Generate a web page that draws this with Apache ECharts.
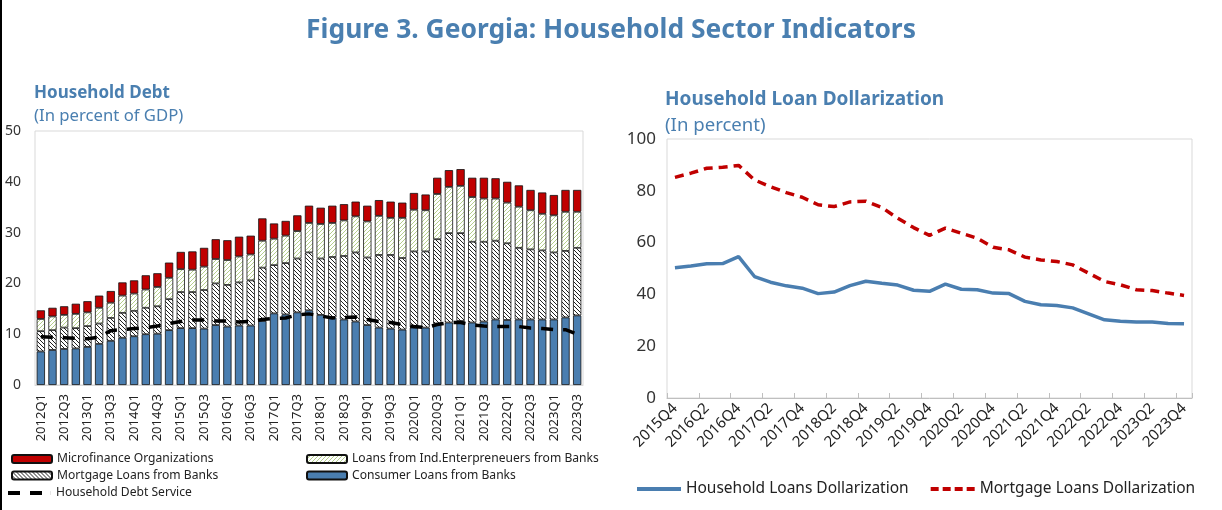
<!DOCTYPE html>
<html>
<head>
<meta charset="utf-8">
<script src="https://cdn.jsdelivr.net/npm/echarts@6/dist/echarts.min.js"></script>
<style>html,body{margin:0;padding:0;background:#fff}#c{width:1222px;height:510px}</style>
</head>
<body>
<div id="c"></div>
<script>
// ---------- Left chart: Household Debt (percent of GDP) ----------
const debtQuarters = ['2012Q1','2012Q2','2012Q3','2012Q4','2013Q1','2013Q2','2013Q3','2013Q4',
  '2014Q1','2014Q2','2014Q3','2014Q4','2015Q1','2015Q2','2015Q3','2015Q4',
  '2016Q1','2016Q2','2016Q3','2016Q4','2017Q1','2017Q2','2017Q3','2017Q4',
  '2018Q1','2018Q2','2018Q3','2018Q4','2019Q1','2019Q2','2019Q3','2019Q4',
  '2020Q1','2020Q2','2020Q3','2020Q4','2021Q1','2021Q2','2021Q3','2021Q4',
  '2022Q1','2022Q2','2022Q3','2022Q4','2023Q1','2023Q2','2023Q3'];
const consumerLoans = [6.6,6.9,7.1,7.2,7.5,8.1,8.7,9.3,9.6,10.0,10.1,10.8,11.2,11.2,11.1,11.8,
  11.5,11.7,11.7,12.6,14.1,13.9,14.3,14.7,13.8,13.3,12.9,12.5,11.8,11.3,11.1,10.9,
  11.3,11.3,12.1,12.3,12.6,12.3,12.5,12.9,12.8,12.9,12.9,12.9,12.9,13.3,13.7];
const mortgageLoans = [4.0,3.9,4.2,4.0,4.1,4.0,4.5,4.9,5.0,5.2,5.4,6.1,7.1,7.1,7.6,8.2,
  8.2,8.5,8.9,10.5,9.5,10.1,10.6,11.4,11.1,11.9,12.5,13.6,13.3,14.3,14.5,14.1,
  15.0,15.0,16.6,17.6,17.3,15.9,15.7,15.5,15.1,14.1,13.8,13.6,13.2,13.1,13.3];
const indEntLoans = [2.4,2.7,2.5,2.8,2.7,3.1,3.0,3.4,3.4,3.6,3.8,4.2,4.5,4.4,4.6,4.8,
  4.9,5.1,5.1,5.3,5.2,5.4,5.4,5.8,6.8,6.7,7.0,7.1,7.1,7.7,7.3,7.9,
  8.2,8.1,8.9,9.1,9.3,8.8,8.5,8.3,8.0,8.1,7.7,7.2,7.3,7.7,7.1];
const microfinance = [1.7,1.7,1.7,2.0,2.2,2.4,2.3,2.6,2.6,2.8,2.7,3.0,3.4,3.6,3.7,3.9,
  3.9,3.9,3.7,4.4,3.0,2.9,3.1,3.4,3.2,3.4,3.2,2.9,3.1,3.1,3.2,3.0,
  3.3,3.1,3.2,3.3,3.3,3.8,4.1,4.0,4.1,4.2,4.0,4.2,4.0,4.3,4.3];
const debtService = [9.5,9.4,9.3,9.2,9.1,9.4,10.7,10.9,11.1,11.3,11.6,12.1,12.5,12.8,12.8,12.6,
  12.6,12.4,12.5,12.9,13.1,13.2,13.8,14.0,13.6,13.2,13.3,13.4,12.9,12.5,12.3,11.9,
  11.5,11.3,11.9,12.3,12.3,11.8,11.6,11.5,11.5,11.5,11.2,11.1,10.9,10.9,10.0];

// ---------- Right chart: Household Loan Dollarization (percent) ----------
const dollarQuarters = ['2015Q4','2016Q1','2016Q2','2016Q3','2016Q4','2017Q1','2017Q2','2017Q3',
  '2017Q4','2018Q1','2018Q2','2018Q3','2018Q4','2019Q1','2019Q2','2019Q3','2019Q4',
  '2020Q1','2020Q2','2020Q3','2020Q4','2021Q1','2021Q2','2021Q3','2021Q4',
  '2022Q1','2022Q2','2022Q3','2022Q4','2023Q1','2023Q2','2023Q3','2023Q4'];
const householdDollarization = [50.3,51.0,51.8,51.9,54.6,46.9,44.7,43.3,42.4,40.3,40.9,43.4,45.1,44.3,43.6,41.6,41.2,
  44.0,42.0,41.8,40.5,40.3,37.3,36.0,35.7,34.8,32.5,30.2,29.6,29.3,29.3,28.8,28.7];
const mortgageDollarization = [85.2,86.8,88.7,89.1,89.8,84.2,81.6,79.3,77.5,74.6,73.9,75.7,76.0,73.6,69.4,65.8,62.8,
  65.6,63.6,61.7,58.2,57.2,54.4,53.3,52.7,51.4,48.2,45.0,43.7,41.8,41.5,40.5,39.6];

const FONT = "'Noto Sans', sans-serif";
const BLUE = '#4a7eb0';
const RED = '#c00000';
const TITLE_BLUE = '#4a7fb0';

function hatch(color, dir) {
  const s = 4;
  const c = document.createElement('canvas');
  c.width = s; c.height = s;
  const g = c.getContext('2d');
  g.fillStyle = '#ffffff';
  g.fillRect(0, 0, s, s);
  g.strokeStyle = color;
  g.lineWidth = 1;
  g.beginPath();
  for (let k = -s; k <= s; k += s) {
    if (dir === '\\') { g.moveTo(k, 0); g.lineTo(k + s, s); }
    else { g.moveTo(k, s); g.lineTo(k + s, 0); }
  }
  g.stroke();
  return { image: c, repeat: 'repeat' };
}
const mortgagePattern = hatch('#222222', '\\');
const indEntPattern = hatch('#b5cf8c', '/');

const chart = echarts.init(document.getElementById('c'), null, { renderer: 'canvas' });

const barBorder = { borderColor: '#111', borderWidth: 0.8 };
const legendText = { fontSize: 12.1, color: '#222', lineHeight: 14, fontFamily: FONT };
const dash2Icon = 'path://M0,0H12V4H0Z M22,0H34V4H22Z M42.9,0H43V4H42.9Z';
const dash4Icon = 'path://M0,0H8V4H0Z M12,0H20V4H12Z M24,0H32V4H24Z M36,0H44V4H36Z';

const option = {
  animation: false,
  textStyle: { fontFamily: FONT },
  graphic: [
    { type: 'rect', shape: { x: 0, y: 0, width: 2, height: 510 }, style: { fill: '#000' } },
    { type: 'text', style: { x: 611, y: 30, text: 'Figure 3. Georgia: Household Sector Indicators',
        font: "bold 26.4px 'Noto Sans'", fill: TITLE_BLUE, textAlign: 'center', textVerticalAlign: 'middle' } },
    { type: 'text', style: { x: 34, y: 93, text: 'Household Debt',
        font: "bold 17px 'Noto Sans'", fill: TITLE_BLUE, textAlign: 'left', textVerticalAlign: 'middle' } },
    { type: 'text', style: { x: 34, y: 116, text: '(In percent of GDP)',
        font: "16.7px 'Noto Sans'", fill: TITLE_BLUE, textAlign: 'left', textVerticalAlign: 'middle' } },
    { type: 'text', style: { x: 665, y: 100, text: 'Household Loan Dollarization',
        font: "bold 19px 'Noto Sans'", fill: TITLE_BLUE, textAlign: 'left', textVerticalAlign: 'middle' } },
    { type: 'text', style: { x: 665, y: 126, text: '(In percent)',
        font: "18.6px 'Noto Sans'", fill: TITLE_BLUE, textAlign: 'left', textVerticalAlign: 'middle' } }
  ],
  legend: [
    { left: 6, top: 447, orient: 'vertical', itemWidth: 40, itemHeight: 8, itemGap: 2.5,
      textStyle: legendText,
      data: ['Microfinance Organizations', 'Mortgage Loans from Banks'] },
    { left: 3, top: 481, orient: 'vertical', itemWidth: 43, itemHeight: 4, itemGap: 2.5,
      textStyle: legendText,
      data: [{ name: 'Household Debt Service', icon: dash2Icon, itemStyle: { color: '#000', opacity: 1 } }] },
    { left: 301, top: 447, orient: 'vertical', itemWidth: 40, itemHeight: 8, itemGap: 2.5,
      textStyle: legendText,
      data: ['Loans from Ind.Enterpreneuers from Banks', 'Consumer Loans from Banks'] },
    { left: 632, top: 476, orient: 'horizontal', itemWidth: 44, itemHeight: 4, itemGap: 22,
      textStyle: { fontSize: 15.5, color: '#222', fontFamily: FONT },
      data: [{ name: 'Household Loans Dollarization', icon: 'rect', itemStyle: { color: BLUE, opacity: 1 } },
             { name: 'Mortgage Loans Dollarization', icon: dash4Icon, itemStyle: { color: RED, opacity: 1 } }] }
  ],
  grid: [
    { left: 35, right: 639, top: 131, bottom: 125, show: true, borderColor: '#d9d9d9', borderWidth: 1 },
    { left: 667, right: 30, top: 139, bottom: 112, show: true, borderColor: '#d9d9d9', borderWidth: 1 }
  ],
  xAxis: [
    { type: 'category', gridIndex: 0, data: debtQuarters,
      axisLine: { lineStyle: { color: '#d9d9d9' } }, axisTick: { show: false },
      axisLabel: { interval: 1, rotate: 90, fontSize: 13, color: '#222', margin: 9 } },
    { type: 'category', gridIndex: 1, data: dollarQuarters, boundaryGap: true,
      axisLine: { lineStyle: { color: '#bfbfbf' } },
      axisTick: { show: true, interval: 1, inside: true, length: 5, lineStyle: { color: '#bfbfbf' } },
      axisLabel: { interval: 1, rotate: 45, fontSize: 15, color: '#222', margin: 8 } }
  ],
  yAxis: [
    { type: 'value', gridIndex: 0, min: 0, max: 50, interval: 10,
      axisLine: { show: false }, axisTick: { show: false }, splitLine: { show: false },
      axisLabel: { fontSize: 14, color: '#333', margin: 14 } },
    { type: 'value', gridIndex: 1, min: 0, max: 100, interval: 20,
      axisLine: { show: false }, axisTick: { show: false }, splitLine: { show: false },
      axisLabel: { fontSize: 17, color: '#333', margin: 11 } }
  ],
  series: [
    { name: 'Consumer Loans from Banks', type: 'bar', stack: 'debt', xAxisIndex: 0, yAxisIndex: 0,
      barWidth: '71%', data: consumerLoans, itemStyle: Object.assign({ color: BLUE }, barBorder) },
    { name: 'Mortgage Loans from Banks', type: 'bar', stack: 'debt', xAxisIndex: 0, yAxisIndex: 0,
      barWidth: '71%', data: mortgageLoans, itemStyle: Object.assign({ color: mortgagePattern }, barBorder) },
    { name: 'Loans from Ind.Enterpreneuers from Banks', type: 'bar', stack: 'debt', xAxisIndex: 0, yAxisIndex: 0,
      barWidth: '71%', data: indEntLoans, itemStyle: Object.assign({ color: indEntPattern }, barBorder) },
    { name: 'Microfinance Organizations', type: 'bar', stack: 'debt', xAxisIndex: 0, yAxisIndex: 0,
      barWidth: '71%', data: microfinance, itemStyle: Object.assign({ color: RED }, barBorder) },
    { name: 'Household Debt Service', type: 'line', xAxisIndex: 0, yAxisIndex: 0, z: 5,
      data: debtService, symbol: 'none', itemStyle: { color: '#000' },
      lineStyle: { color: '#000', width: 3.5, type: [12, 10] } },
    { name: 'Household Loans Dollarization', type: 'line', xAxisIndex: 1, yAxisIndex: 1,
      data: householdDollarization, symbol: 'none', itemStyle: { color: BLUE },
      lineStyle: { color: BLUE, width: 3.5 } },
    { name: 'Mortgage Loans Dollarization', type: 'line', xAxisIndex: 1, yAxisIndex: 1,
      data: mortgageDollarization, symbol: 'none', itemStyle: { color: RED },
      lineStyle: { color: RED, width: 3.5, type: [9, 6] } }
  ]
};
chart.setOption(option);
</script>
</body>
</html>
